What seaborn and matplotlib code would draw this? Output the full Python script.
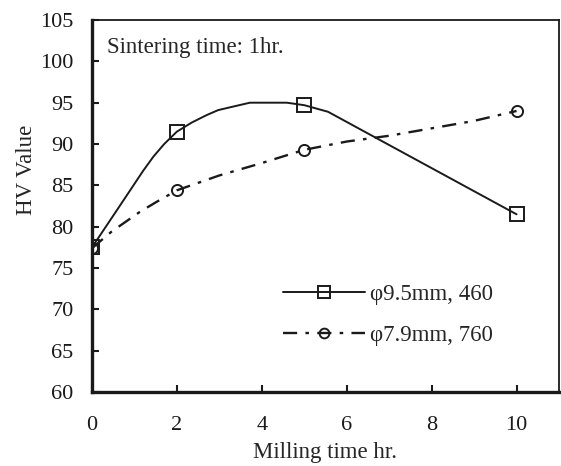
import matplotlib
matplotlib.use("Agg")
import matplotlib.pyplot as plt
import seaborn as sns
import pandas as pd
from matplotlib.lines import Line2D

# measured points (markers)
mill_time = [0, 2, 5, 10]
hv_95 = [77.5, 91.5, 94.7, 81.5]
hv_79 = [77.4, 84.4, 89.3, 94.0]

# smoothed curves
curve_95_x = [0, 0.6, 1.21, 1.45, 1.7, 2, 2.35, 2.7, 2.97, 3.3, 3.72, 4.59, 5, 5.56, 10]
curve_95_y = [77.5, 82.1, 86.8, 88.5, 90.0, 91.5, 92.6, 93.5, 94.1, 94.5, 95.0, 95.0, 94.7, 93.9, 81.5]
curve_79_x = [0, 0.46, 1.13, 1.52, 2, 3, 4, 5, 6, 7, 8, 9, 10]
curve_79_y = [77.4, 79.4, 81.8, 83.0, 84.4, 86.2, 87.7, 89.3, 90.3, 91.0, 91.9, 92.8, 94.0]

labels = ["φ9.5mm, 460", "φ7.9mm, 760"]

sns.set_theme(style="ticks")
plt.rcParams["font.family"] = ["Liberation Serif", "DejaVu Serif"]

ink = "#1a1a1a"
fig, ax = plt.subplots(figsize=(5.61, 4.66), dpi=100)
fig.subplots_adjust(left=0.164, right=0.9964, top=0.957, bottom=0.1588)

dashdot = (0, (6, 3.5, 1.5, 3.5))

c95 = pd.DataFrame({"x": curve_95_x, "y": curve_95_y})
c79 = pd.DataFrame({"x": curve_79_x, "y": curve_79_y})
sns.lineplot(data=c95, x="x", y="y", ax=ax, color=ink, lw=1.4, sort=False)
sns.lineplot(data=c79, x="x", y="y", ax=ax, color=ink, lw=1.7, sort=False,
             linestyle=dashdot)

ax.plot(mill_time, hv_95, ls="none", marker="s", ms=10.5, mfc="none",
        mec=ink, mew=1.4)
ax.plot(mill_time, hv_79, ls="none", marker="o", ms=8, mfc="none",
        mec=ink, mew=1.4)

ax.set_xlim(0, 11)
ax.set_ylim(60, 105)
ax.set_xticks([0, 2, 4, 6, 8, 10])
ax.set_yticks(range(60, 106, 5))
ax.tick_params(direction="in", length=5, width=1.5, labelsize=16, colors=ink)
ax.tick_params(axis="x", pad=17.5)
ax.tick_params(axis="y", pad=13.5)
for s in ["left", "bottom"]:
    ax.spines[s].set_linewidth(2.4)
for s in ["top", "right"]:
    ax.spines[s].set_linewidth(1.3)
for s in ax.spines.values():
    s.set_color(ink)

ax.set_xlabel("Milling time hr.", fontsize=16.5, labelpad=5)
ax.set_ylabel("HV Value", fontsize=16.5)
ax.yaxis.set_label_coords(-0.118, 0.597)
ax.text(0.032, 0.925, "Sintering time: 1hr.", transform=ax.transAxes,
        fontsize=16.5, va="center", ha="left")

handles = [
    Line2D([], [], color=ink, lw=1.4, marker="s", ms=8, mfc="none", mew=1.4),
    Line2D([], [], color=ink, lw=1.7, ls=dashdot, marker="o", ms=7,
           mfc="none", mew=1.4),
]
ax.legend(handles, labels, loc="center left", bbox_to_anchor=(283 / 561, 1 - 315 / 466),
          bbox_transform=fig.transFigure, borderpad=0, borderaxespad=0,
          frameon=False, fontsize=16.5, handlelength=3.57, handletextpad=0.22,
          labelspacing=0.86)

fig.savefig("out.png", dpi=100)
